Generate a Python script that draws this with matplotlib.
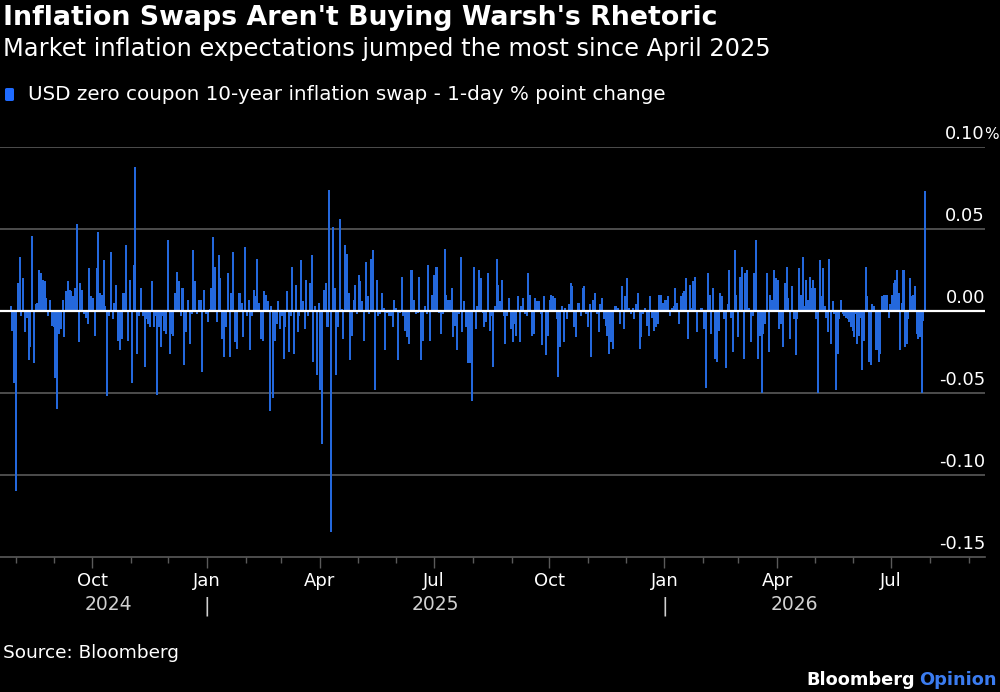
import matplotlib
matplotlib.use("Agg")
import matplotlib.pyplot as plt
import matplotlib.dates as mdates
import matplotlib.transforms as mtransforms
import matplotlib.patches as mpatches
import numpy as np
import pandas as pd

# ---------------- data ----------------
# daily changes (percentage points) in eight consecutive stretches
seg1 = [0.003, -0.012, -0.044, -0.110, 0.017, 0.033, -0.003, 0.020, -0.013, -0.004, -0.030, -0.022, 0.046, -0.032, 0.004, 0.005,
        0.025, 0.023, 0.019, 0.018, 0.008, -0.003, 0.007, -0.009, -0.010, -0.041, -0.060, -0.014, -0.011, 0.007, -0.016, 0.012,
        0.018, 0.013, 0.012, 0.009, 0.014, 0.053, -0.019, 0.017, 0.013, -0.002, -0.004, -0.008, 0.026, 0.009, 0.008, -0.015,
        0.026, 0.048, 0.011, 0.010, 0.031, 0.003, -0.052, -0.003, 0.036, -0.005, 0.005, 0.016, -0.018, -0.024, -0.017, 0.011]
seg2 = [0.011, 0.040, -0.018, 0.019, -0.044, 0.028, 0.088, -0.026, -0.003, 0.014, -0.003, -0.034, -0.005, -0.008, -0.010, 0.018,
        -0.010, -0.003, -0.051, -0.010, -0.022, -0.003, -0.012, -0.014, 0.043, -0.026, -0.014, -0.015, 0.011, 0.024, 0.018, -0.003,
        0.014, -0.033, -0.013, 0.007, -0.020, -0.002, 0.037, 0.018, -0.002, 0.007, 0.007, -0.037, 0.013, -0.002, -0.007, 0.001,
        0.014, 0.045, 0.027, -0.007, 0.034, 0.020, -0.017, -0.028, -0.010, 0.023, -0.028, 0.011, 0.036, -0.019, -0.023, 0.011]
seg3 = [0.011, 0.005, -0.016, 0.039, -0.003, 0.007, -0.024, -0.003, 0.013, 0.009, 0.032, 0.005, -0.017, -0.018, 0.012, 0.010,
        0.006, -0.061, 0.003, -0.053, -0.018, -0.008, 0.006, -0.011, -0.003, -0.029, -0.010, 0.012, -0.025, -0.003, 0.027, -0.026,
        0.016, -0.013, -0.003, 0.031, 0.006, -0.011, 0.019, -0.003, 0.017, 0.034, -0.031, 0.003, -0.039, 0.005, -0.048, -0.081,
        0.013, 0.017, -0.010, 0.074, -0.135, 0.051, 0.014, -0.039, -0.010, 0.056, 0.001, -0.017, 0.040, 0.035, 0.011, -0.030,
        -0.015, 0.007]
seg4 = [0.016, -0.002, 0.022, 0.018, 0.006, -0.018, 0.030, 0.009, -0.002, 0.032, 0.037, -0.048, 0.019, -0.003, -0.002, 0.011,
        0.002, -0.024, -0.001, -0.003, -0.003, -0.010, 0.007, 0.002, -0.030, -0.001, 0.021, -0.003, -0.012, -0.016, -0.020, 0.025,
        0.025, 0.007, -0.002, -0.001, 0.021, -0.030, -0.018, 0.003, -0.002, 0.028, -0.018, 0.010, 0.022, 0.027, 0.027, -0.001,
        -0.014, -0.002, 0.038, 0.010, 0.007, 0.007, 0.014, -0.016, -0.009, -0.024, -0.002, 0.033, -0.013, 0.006, -0.010, -0.032]
seg5 = [-0.032, -0.055, 0.027, -0.011, 0.003, 0.025, 0.020, -0.001, -0.010, -0.007, 0.023, -0.012, -0.003, -0.034, 0.003, 0.032,
        0.016, 0.006, 0.019, -0.003, -0.020, -0.003, 0.008, -0.011, -0.019, -0.008, -0.015, 0.009, -0.019, 0.003, 0.008, -0.002,
        -0.003, 0.023, 0.010, -0.015, -0.014, 0.008, 0.006, 0.006, -0.002, -0.021, 0.009, -0.027, -0.015, 0.007, 0.010, 0.009,
        0.008, -0.005, -0.040, -0.022, 0.003, -0.019, 0.002, -0.005, 0.004, 0.017, 0.015, -0.010, -0.016, 0.005, 0.005, -0.003,
        0.014]
seg6 = [0.015, -0.002, -0.010, 0.004, -0.028, 0.007, 0.011, -0.002, -0.013, 0.004, 0.008, -0.005, -0.009, -0.015, -0.026, -0.019,
        -0.023, 0.003, 0.003, 0.002, -0.008, 0.015, -0.011, 0.009, 0.020, 0.002, -0.002, 0.002, -0.005, 0.004, 0.011, -0.023,
        -0.016, -0.002, 0.002, -0.009, -0.015, 0.009, -0.004, -0.012, -0.010, -0.008, 0.010, 0.010, 0.005, 0.007, 0.007, 0.009,
        -0.003, 0.002, 0.003, 0.014, 0.005, -0.008, 0.009, 0.011, 0.012, 0.020, -0.017, 0.016, 0.002, 0.018, 0.021, -0.013]
seg7 = [0.002, 0.002, -0.011, -0.047, 0.023, 0.010, -0.014, 0.014, -0.029, -0.031, -0.012, 0.011, 0.009, -0.005, -0.035, 0.004,
        0.025, -0.004, -0.025, 0.037, 0.010, -0.016, 0.021, 0.027, -0.029, 0.023, 0.025, 0.002, -0.019, -0.003, 0.023, 0.043,
        -0.029, -0.015, -0.050, -0.014, -0.008, 0.023, -0.025, 0.010, 0.007, 0.025, 0.020, 0.019, -0.011, -0.008, -0.022, 0.017,
        0.027, 0.008, -0.017, 0.015, -0.005, -0.027, -0.005, 0.026, 0.010, 0.033, 0.003, 0.019, 0.007, 0.021, 0.014, 0.019]
seg8 = [0.014, -0.005, -0.050, 0.031, 0.009, 0.026, 0.003, -0.004, -0.013, 0.032, -0.020, 0.006, -0.002, -0.048, -0.026, -0.005,
        0.007, -0.002, -0.003, -0.004, -0.005, -0.007, -0.010, -0.012, -0.016, -0.002, -0.020, -0.015, -0.004, -0.036, -0.018, 0.027,
        0.009, -0.031, -0.033, 0.004, 0.003, -0.024, -0.024, -0.031, -0.026, 0.009, 0.010, 0.010, 0.010, -0.004, 0.004, 0.010,
        0.017, 0.019, 0.025, 0.011, -0.024, 0.005, 0.025, -0.022, -0.020, -0.005, 0.020, 0.009, 0.010, 0.015, -0.014, -0.017,
        -0.016, -0.050, -0.006, 0.073]

# first and last date covered by each stretch
seg_bounds = [("2024-07-28", "2024-10-26"), ("2024-10-27", "2025-01-26"), ("2025-01-27", "2025-04-28"),
              ("2025-04-29", "2025-07-28"), ("2025-07-30", "2025-10-28"), ("2025-10-29", "2026-01-27"),
              ("2026-01-30", "2026-04-30"), ("2026-05-01", "2026-07-28")]
segments = [seg1, seg2, seg3, seg4, seg5, seg6, seg7, seg8]

y_ticks = [0.10, 0.05, 0.00, -0.05, -0.10, -0.15]
y_labels = ["0.10", "0.05", "0.00", "-0.05", "-0.10", "-0.15"]

title = "Inflation Swaps Aren't Buying Warsh's Rhetoric"
subtitle = "Market inflation expectations jumped the most since April 2025"
legend_label = "USD zero coupon 10-year inflation swap - 1-day % point change"
source = "Source: Bloomberg"

# ---------------- style ----------------
BG = "#000000"
BLUE = "#2468dc"
GRID = "#5a5a5a"
TXT = "#ffffff"

plt.rcParams["font.family"] = ["DejaVu Sans"]

fig = plt.figure(figsize=(10, 6.92), dpi=100, facecolor=BG)
W, H = 1000, 692
ax = fig.add_axes([0 / W, 1 - 557 / H, 985 / W, (557 - 147) / H], facecolor=BG)

date_parts, value_parts = [], []
for (a, b), seg in zip(seg_bounds, segments):
    date_parts.append(pd.date_range(a, b, periods=len(seg)))
    value_parts.extend(seg)
dates = date_parts[0]
for p in date_parts[1:]:
    dates = dates.append(p)
changes = np.array(value_parts)

ax.bar(dates, changes, width=1.6, color=BLUE, linewidth=0, zorder=3, antialiased=False)

ax.set_ylim(-0.15, 0.10)
ax.set_xlim(pd.Timestamp("2024-07-19 12:00"), pd.Timestamp("2026-09-14"))

for v in y_ticks:
    if v == 0:
        ax.axhline(0, color="#ffffff", lw=1.6, zorder=4)
    elif v != min(y_ticks):
        ax.axhline(v, color=GRID, lw=1.2, zorder=1)

for s in ["top", "right", "left"]:
    ax.spines[s].set_visible(False)
ax.spines["bottom"].set_color(GRID)
ax.spines["bottom"].set_linewidth(1.2)

ax.set_yticks([])
lab_tr = mtransforms.offset_copy(mtransforms.blended_transform_factory(ax.transAxes, ax.transData),
                                 fig=fig, x=0, y=8, units="dots")
pct_tr = mtransforms.offset_copy(mtransforms.blended_transform_factory(ax.transAxes, ax.transData),
                                 fig=fig, x=-1, y=8, units="dots")
for v, lab in zip(y_ticks, y_labels):
    ax.text(1.0, v, lab, transform=lab_tr, ha="right", va="baseline", color=TXT, fontsize=13)
    if v == max(y_ticks):
        ax.text(1.0, v, "%", transform=pct_tr, ha="left", va="baseline", color=TXT, fontsize=11)

# x ticks
ax.xaxis.set_major_locator(mdates.MonthLocator(bymonth=[1, 4, 7, 10]))
ax.xaxis.set_minor_locator(mdates.MonthLocator())
ax.xaxis.set_major_formatter(mdates.DateFormatter("%b"))
ax.tick_params(axis="x", which="major", length=8, width=1, color=GRID, labelcolor=TXT,
               labelsize=13, pad=3)
ax.tick_params(axis="x", which="minor", length=4, width=1, color=GRID)

# year labels centered on the data span within each year
first, last = dates[0], dates[-1]
ytr = mtransforms.blended_transform_factory(ax.transData, fig.transFigure)
for yr in sorted(set(d.year for d in dates)):
    a = max(first, pd.Timestamp(f"{yr}-01-01"))
    b = min(last, pd.Timestamp(f"{yr}-12-31"))
    mid = a + (b - a) / 2
    ax.text(mid, 1 - 605 / H, str(yr), transform=ytr, ha="center", va="center",
            color="#d0d0d0", fontsize=13.5)
    if yr > first.year:
        ax.text(pd.Timestamp(f"{yr}-01-01"), 1 - 606 / H, "|", transform=ytr, ha="center",
                va="center", color="#d0d0d0", fontsize=14)

# titles and legend
fig.text(3 / W, 1 - 18 / H, title, color=TXT, fontsize=19.3, fontweight="bold",
         ha="left", va="center")
fig.text(3 / W, 1 - 49 / H, subtitle, color=TXT, fontsize=17.35, ha="left", va="center")
fig.patches.append(mpatches.FancyBboxPatch(
    (5 / W, 1 - 101 / H), 9 / W, 13 / H, boxstyle="round,pad=0,rounding_size=0.002",
    transform=fig.transFigure, facecolor="#1f6bff", edgecolor="none"))
fig.text(28 / W, 1 - 95 / H, legend_label, color=TXT, fontsize=14.3, ha="left", va="center")

fig.text(3 / W, 1 - 653 / H, source, color=TXT, fontsize=13.3, ha="left", va="center")
t1 = fig.text(997 / W, 1 - 680 / H, "Opinion", color="#3b7cf0", fontsize=12.8, fontweight="bold",
              ha="right", va="center")
fig.canvas.draw()
bb = t1.get_window_extent()
fig.text((bb.x0 - 5) / W, 1 - 680 / H, "Bloomberg", color=TXT, fontsize=12.8, fontweight="bold",
         ha="right", va="center")

fig.savefig("out.png", dpi=100, facecolor=BG)
